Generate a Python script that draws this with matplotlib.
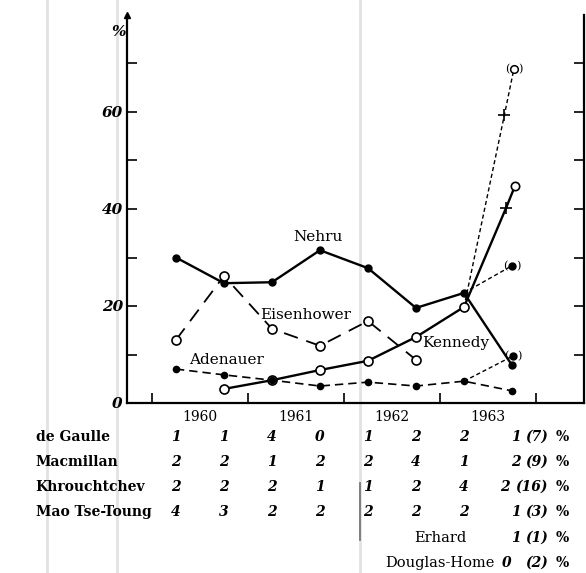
import matplotlib
matplotlib.use("Agg")
import matplotlib.pyplot as plt
from matplotlib.lines import Line2D

plt.rcParams['font.family'] = ['DejaVu Serif']

# half-year positions of the polls
x = [1960.25, 1960.75, 1961.25, 1961.75, 1962.25, 1962.75, 1963.25, 1963.75]
nehru = [30.0, 24.7, 24.9, 31.5, 27.8, 19.6, 22.7, 7.8]
adenauer = [7.0, 5.8, 4.7, 3.5, 4.3, 3.5, 4.5, 2.5]
eisen_x = x[:6]
eisenhower = [13.0, 26.2, 15.3, 11.8, 16.9, 8.9]
kennedy_x = [1960.75, 1961.25, 1961.75, 1962.25, 1962.75, 1963.25, 1963.69]
kennedy = [2.9, 4.7, 6.8, 8.7, 13.6, 19.8, 40.3]
kennedy_end = (1963.78, 44.7)
# dotted extensions
proj_k_x = [1963.25, 1963.67, 1963.77]
proj_k = [19.8, 59.3, 68.9]
proj_n_x = [1963.25, 1963.75]
proj_n = [22.7, 28.3]
proj_a_x = [1963.25, 1963.76]
proj_a = [4.5, 9.7]

years = [1960, 1961, 1962, 1963]

rows = ["de Gaulle", "Macmillan", "Khrouchtchev", "Mao Tse-Toung"]
table = [[1, 1, 4, 0, 1, 2, 2, 1],
         [2, 2, 1, 2, 2, 4, 1, 2],
         [2, 2, 2, 1, 1, 2, 4, 2],
         [4, 3, 2, 2, 2, 2, 2, 1]]
totals = [7, 9, 16, 3]
extra_rows = ["Erhard", "Douglas-Home"]
extra_last = [1, 0]
extra_totals = [1, 2]

fig = plt.figure(figsize=(5.86, 5.73), dpi=100)

# faint scan lines (behind everything)
for gx in [47, 117, 360]:
    fig.add_artist(Line2D([gx/586, gx/586], [0, 1], color='#e2e2e2', lw=2, zorder=0))
fig.add_artist(Line2D([360/586, 360/586], [1-483/573, 1-540/573], color='#777777', lw=1.3, zorder=0))

ax = fig.add_axes([127/586, 1-403/573, (584-127)/586, (403-15)/573])
ax.patch.set_alpha(0)

ax.set_xlim(1959.74, 1964.5)
ax.set_ylim(0, 80)

# axes look
ax.spines['top'].set_visible(False)
for s in ['left', 'bottom', 'right']:
    ax.spines[s].set_linewidth(1.6)
ax.plot([1959.74], [80], marker='^', color='k', ms=4, clip_on=False)

ax.set_yticks([0, 20, 40, 60])
ax.set_yticks([10, 30, 50, 70], minor=True)
ax.set_yticklabels(['0', '20', '40', '60'], fontsize=11, fontweight='bold', style='italic')
ax.tick_params(axis='y', which='both', direction='in', length=7, width=1.2,
               right=True, pad=3)

ax.set_xticks([1960, 1961, 1962, 1963, 1964])
ax.set_xticklabels([])
ax.set_xticks([y + 0.5 for y in years], minor=True)
ax.set_xticklabels([str(y) for y in years], minor=True, fontsize=10)
ax.tick_params(axis='x', which='major', direction='in', length=7, width=1.2)
ax.tick_params(axis='x', which='minor', length=0, pad=5)

ax.text(1959.65, 76.5, '%', fontsize=11, fontweight='bold', style='italic',
        ha='center', va='center')

# series
ax.plot(x, nehru, '-', color='k', lw=1.7, marker='o', ms=5, zorder=3)
ax.plot(eisen_x, eisenhower, color='k', lw=1.3, dashes=(8, 5), marker='o', ms=6.5,
        mfc='white', mew=1.2, zorder=3)
ax.plot(kennedy_x[:-1], kennedy[:-1], '-', color='k', lw=1.7, marker='o', ms=6.5,
        mfc='white', mew=1.2, zorder=3)
ax.plot(kennedy_x[-2:], kennedy[-2:], '-', color='k', lw=1.7, zorder=2)
ax.plot([kennedy_x[-1], kennedy_end[0]], [kennedy[-1], kennedy_end[1]], '-', color='k', lw=1.7)
ax.plot(kennedy_x[-1], kennedy[-1], marker='+', color='k', ms=9, mew=1.2)
ax.plot(kennedy_end[0], kennedy_end[1], marker='o', ms=6, mfc='white', mec='k', mew=1.2, zorder=4)
ax.plot(x, adenauer, color='k', lw=1.2, dashes=(5, 3), marker='o', ms=4.5, zorder=5)

ax.plot(proj_k_x, proj_k, color='k', lw=1.0, dashes=(3, 2))
ax.plot(proj_k_x[1], proj_k[1], marker='+', color='k', ms=9, mew=1.2)
ax.plot(proj_k_x[2], proj_k[2], marker='o', ms=5.5, mfc='white', mec='k', mew=1.1, zorder=4)
ax.plot(proj_n_x, proj_n, color='k', lw=1.0, dashes=(3, 2))
ax.plot(proj_n_x[-1], proj_n[-1], marker='o', ms=5, color='k', zorder=4)
ax.plot(proj_a_x, proj_a, color='k', lw=1.0, dashes=(3, 2))
ax.plot(proj_a_x[-1], proj_a[-1], marker='o', ms=5, color='k', zorder=4)
for px, py in [(proj_k_x[2], proj_k[2]), (proj_n_x[-1], proj_n[-1]), (proj_a_x[-1], proj_a[-1])]:
    ax.annotate('(', (px, py), xytext=(-4.5, 0), textcoords='offset points',
                ha='center', va='center', fontsize=8)
    ax.annotate(')', (px, py), xytext=(4.5, 0), textcoords='offset points',
                ha='center', va='center', fontsize=8)

# names
ax.text(1961.73, 34.2, 'Nehru', fontsize=11, ha='center', va='center')
ax.text(1961.6, 18.1, 'Eisenhower', fontsize=11, ha='center', va='center')
ax.text(1960.78, 8.9, 'Adenauer', fontsize=11, ha='center', va='center')
ax.text(1963.16, 12.4, 'Kennedy', fontsize=11, ha='center', va='center')

# table below the chart
row_y = [-7.0, -12.2, -17.3, -22.5, -27.8, -33.0]
label_x = 1958.79
for i, name in enumerate(rows):
    yy = row_y[i]
    ax.text(label_x, yy, name, fontsize=10, fontweight='bold', ha='left', va='center', clip_on=False)
    for j, v in enumerate(table[i]):
        xx = x[j]
        if j == 7:
            xx += 0.04 if totals[i] < 10 else -0.07
        ax.text(xx, yy, str(v), fontsize=10, fontweight='bold',
                style='italic', ha='center', va='center', clip_on=False)
    ax.text(1964.12, yy, '(%d)' % totals[i], fontsize=10, fontweight='bold', style='italic',
            ha='right', va='center', clip_on=False)
    ax.text(1964.27, yy, '%', fontsize=10, fontweight='bold', ha='center', va='center', clip_on=False)
for k, name in enumerate(extra_rows):
    yy = row_y[4 + k]
    ax.text(1963.0, yy, name, fontsize=10.5, ha='center', va='center', clip_on=False)
    ax.text(1963.79 - 0.1 * k, yy, str(extra_last[k]), fontsize=10, fontweight='bold',
            style='italic', ha='center', va='center', clip_on=False)
    ax.text(1964.12, yy, '(%d)' % extra_totals[k], fontsize=10, fontweight='bold', style='italic',
            ha='right', va='center', clip_on=False)
    ax.text(1964.27, yy, '%', fontsize=10, fontweight='bold', ha='center', va='center', clip_on=False)

fig.savefig('out.png', dpi=100)
